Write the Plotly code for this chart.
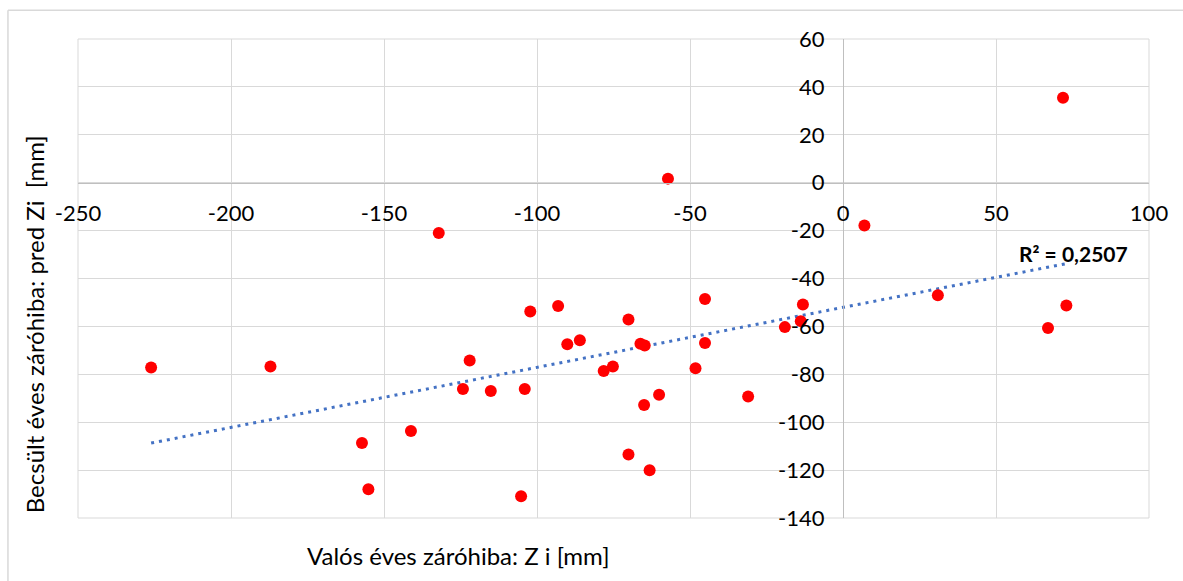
import numpy as np
import plotly.graph_objects as go

# Valós éves záróhiba (Z i) and Becsült éves záróhiba (pred Zi), mm
z_real = [-226.1, -187.1, -132.1, -157.2, -155.1, -141.2, -122.0, -124.2, -115.1,
          -104.0, -102.2, -105.2, -93.1, -90.1, -86.0, -78.2, -75.2, -70.1, -70.1,
          -66.2, -64.8, -65.0, -63.2, -60.1, -57.2, -48.2, -45.1, -45.1, -31.0,
          -19.0, -13.1, -13.8, 7.0, 31.0, 71.9, 73.0, 67.0]
z_pred = [-77.2, -76.7, -21.0, -108.7, -128.0, -103.7, -74.2, -86.1, -87.0,
          -86.1, -53.8, -130.9, -51.5, -67.5, -65.8, -78.6, -76.7, -57.1, -113.5,
          -67.2, -68.0, -92.8, -120.1, -88.5, 1.7, -77.5, -48.6, -66.9, -89.3,
          -60.3, -50.9, -57.8, -17.9, -47.0, 35.5, -51.3, -60.7]

x_ticks = [-250, -200, -150, -100, -50, 0, 50, 100]
y_ticks = [-140, -120, -100, -80, -60, -40, -20, 0, 20, 40, 60]
r2_label = "R² = 0,2507"
x_title = "Valós éves záróhiba: Z i [mm]"
y_title = "Becsült éves záróhiba: pred Zi  [mm]"

FONT = "Lato"
GRID = "#d9d9d9"
AXIS = "#bfbfbf"

xa = np.array(z_real)
ya = np.array(z_pred)
slope, intercept = np.polyfit(xa, ya, 1)
tx = np.array([xa.min(), xa.max()])
ty = slope * tx + intercept

fig = go.Figure()
fig.add_trace(go.Scatter(x=tx, y=ty, mode="lines",
                         line=dict(color="#4472C4", width=3, dash="3px,5px"),
                         hoverinfo="skip", showlegend=False))
fig.add_trace(go.Scatter(x=z_real, y=z_pred, mode="markers",
                         marker=dict(color="#FF0000", size=12),
                         showlegend=False))

fig.update_layout(
    width=1183, height=581,
    margin=dict(l=78, r=34, t=39, b=63),
    paper_bgcolor="white", plot_bgcolor="white",
    font=dict(family=FONT, size=22, color="#000000"),
    xaxis=dict(range=[-250, 100], tickvals=x_ticks, ticktext=[str(v) for v in x_ticks],
               showgrid=True, gridcolor=GRID, gridwidth=1, zeroline=False,
               showline=True, linecolor=AXIS, linewidth=1.3,
               anchor="free", position=140 / 200,
               ticks="outside", ticklen=11, tickcolor="rgba(0,0,0,0)",
               tickfont=dict(family=FONT, size=22)),
    yaxis=dict(range=[-140, 60], tickvals=y_ticks, ticktext=[str(v) for v in y_ticks],
               showgrid=True, gridcolor=GRID, gridwidth=1, zeroline=False,
               showline=True, linecolor=AXIS, linewidth=1.3,
               anchor="free", position=250 / 350,
               ticks="outside", ticklen=14, tickcolor="rgba(0,0,0,0)",
               tickfont=dict(family=FONT, size=22)),
    shapes=[
        dict(type="rect", xref="paper", yref="paper", x0=0, x1=1, y0=0, y1=1,
             line=dict(color=GRID, width=1), layer="below"),
        dict(type="line", xref="paper", yref="paper", x0=-0.0654, x1=-0.0654, y0=-0.2, y1=1.06,
             line=dict(color=GRID, width=1.5)),
        dict(type="line", xref="paper", yref="paper", x0=-0.0654, x1=1.1, y0=1.06, y1=1.06,
             line=dict(color=GRID, width=1.5)),
    ],
    annotations=[
        dict(text="<b>" + r2_label + "</b>", x=75.4, y=-29.5, xref="x", yref="y", showarrow=False,
             font=dict(family=FONT, size=21, color="#000000"), xanchor="center", yanchor="middle"),
        dict(text=x_title, x=0.3555, y=-0.078, xref="paper", yref="paper", showarrow=False,
             font=dict(family=FONT, size=24), xanchor="center", yanchor="middle"),
        dict(text=y_title, x=-0.0404, y=0.404, xref="paper", yref="paper", showarrow=False,
             textangle=-90, font=dict(family=FONT, size=24), xanchor="center", yanchor="middle"),
    ],
)

fig.write_html("out.html")
